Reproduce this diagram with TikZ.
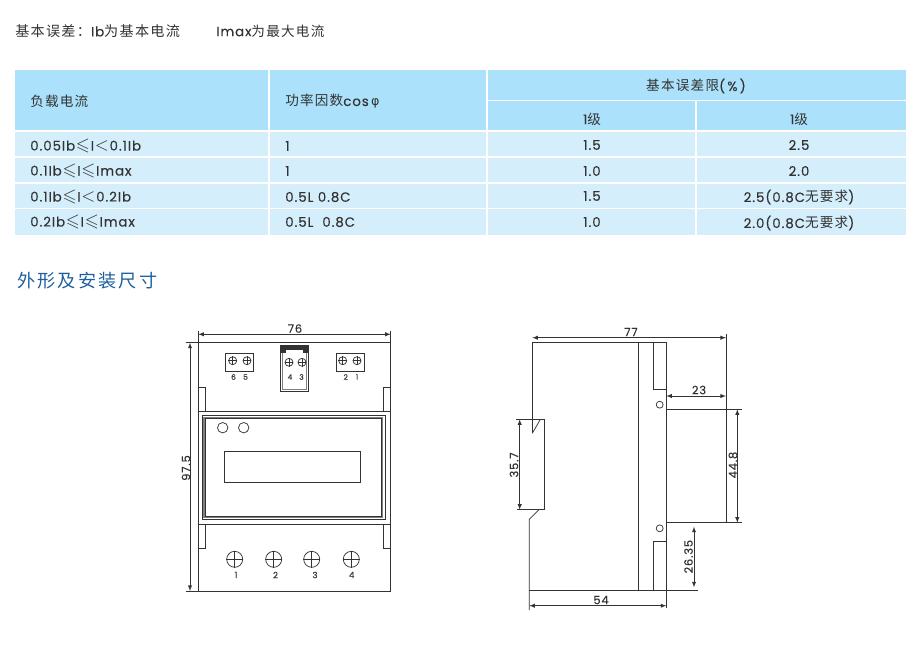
\documentclass[tikz,border=0pt]{standalone}
\usepackage{amssymb}
\usepackage{fontspec}
\setmainfont[LetterSpace=7,FakeBold=0.2]{Poppins}
\newfontfamily\cjk[LetterSpace=9]{Noto Sans CJK SC}
\newfontfamily\phifont{DejaVu Sans}
\newcommand{\cn}[1]{{\cjk\fontsize{10.2}{12}\selectfont #1}}
\newcommand{\leslant}{\kern.6pt\scalebox{1.35}{$\leqslant$}\kern.6pt}
\newcommand{\lessthan}{\kern.6pt\scalebox{1.35}{$<$}\kern.6pt}
\usetikzlibrary{arrows}
\definecolor{headblue}{HTML}{ABE1FA}
\definecolor{rowblue}{HTML}{D4EEFB}
\definecolor{inktext}{HTML}{333333}
\definecolor{titleblue}{HTML}{1F5F9E}
\tikzset{
	celltext/.style={inner sep=0pt, text=inktext, font=\fontsize{10}{12}\selectfont},
	lefttext/.style={celltext, anchor=west},
	part/.style={draw=inktext, line width=.55pt},
	dim/.style={draw=inktext, line width=.45pt, latex-latex, >=latex},
	dimtext/.style={inner sep=0pt, text=inktext, font=\fontsize{8.6}{10}\selectfont},
	tinytext/.style={inner sep=0pt, text=inktext, font=\fontsize{5.6}{7}\selectfont},
}
\newcommand{\screw}[4]{% name, x, y, diameter
	\node[part,circle,inner sep=0pt,minimum size=#4*.75pt] at (#2,#3) (#1) {};
	\draw[part,line width=.4pt] (#1.north) -- (#1.south) (#1.west) -- (#1.east);
}
\begin{document}
\begin{tikzpicture}[x=.75pt,y=-.75pt]
	\useasboundingbox (0,0) rectangle (920,647);
	% text above the table
	\node[lefttext] at (15,31) (note1) {{\cjk\fontsize{10.6}{12}\selectfont 基本误差：}Ib{\cjk\fontsize{10.6}{12}\selectfont 为基本电流}};
	\node[lefttext] at (216,31) (note2) {Imax\cn{为最大电流}};

	% table
	\fill[headblue] (15,70) rectangle (905.5,131);
	\fill[rowblue] (15,131) rectangle (905.5,234.5);
	\foreach \y in {131,157,183,208.7}
		\draw[white,line width=.9pt] (15,\y) -- (905.5,\y);
	\draw[white,line width=.9pt] (487,100.7) -- (905.5,100.7);
	\draw[white,line width=.9pt] (696,100.7) -- (696,234.5);
	\foreach \x in {269,487}
		\draw[white,line width=.9pt] (\x,70) -- (\x,234.5);

	\node[lefttext] at (30,101.5) (load) {\cn{负载电流}};
	\node[lefttext] at (285,101.5) (pf) {\cn{功率因数}cos\,{\phifont\fontsize{9.5}{11}\selectfont φ}};
	\node[celltext] at (696,86) (limit) {\cn{基本误差限}(\,\%\,)};
	\node[celltext] at (592,119) (classa) {1\cn{级}};
	\node[celltext] at (799,119) (classb) {1\cn{级}};

	\node[lefttext] at (30,146) (r1a) {0.05Ib\leslant I\lessthan 0.1Ib};
	\node[lefttext] at (30,171) (r2a) {0.1Ib\leslant I\leslant Imax};
	\node[lefttext] at (30,197) (r3a) {0.1Ib\leslant I\lessthan 0.2Ib};
	\node[lefttext] at (30,222) (r4a) {0.2Ib\leslant I\leslant Imax};
	\node[lefttext] at (285,146) (r1b) {1};
	\node[lefttext] at (285,171) (r2b) {1};
	\node[lefttext] at (285,197) (r3b) {0.5L 0.8C};
	\node[lefttext] at (285,222) (r4b) {0.5L\ \ 0.8C};
	\node[celltext] at (592,145) (r1c) {1.5};
	\node[celltext] at (592,171) (r2c) {1.0};
	\node[celltext] at (592,196) (r3c) {1.5};
	\node[celltext] at (592,222) (r4c) {1.0};
	\node[celltext] at (799,145) (r1d) {2.5};
	\node[celltext] at (799,171) (r2d) {2.0};
	\node[celltext] at (799,197) (r3d) {2.5(0.8C\cn{无要求})};
	\node[celltext] at (799,223) (r4d) {2.0(0.8C\cn{无要求})};

	\node[lefttext,text=titleblue,font=\fontsize{13.6}{16}\selectfont] at (17,281) (heading) {{\fontspec[LetterSpace=12]{Noto Sans CJK SC}外形及安装尺寸}};

	% front view
	\draw[part] (198.3,342.7) rectangle (390.7,591);
	\draw[part] (198.3,411.3) -- (390.7,411.3);
	\draw[part] (198.3,524.3) -- (390.7,524.3);
	\draw[part] (198.3,387) -| (205,411.3);
	\draw[part] (390.7,387) -| (383.3,411.3);
	\draw[part] (205,524.3) |- (198.3,548.3);
	\draw[part] (383.3,524.3) |- (390.7,548.3);
	\draw[part] (202.3,415.7) rectangle (385,519);
	\draw[draw=gray,line width=1pt] (204,417.2) rectangle (382.6,517.6);
	\draw[part,line width=.4pt] (205.2,418.2) rectangle (381,516.5);
	\draw[part] (224,451.3) rectangle (360.7,482.7);
	\node[part,circle,inner sep=0pt,minimum size=7.8pt] at (222.7,427.7) (led1) {};
	\node[part,circle,inner sep=0pt,minimum size=7.8pt] at (243.7,427.7) (led2) {};

	% top terminals
	\draw[part] (225.7,353.3) rectangle (253.3,371.3);
	\draw[part] (336.3,353.3) rectangle (364,371.3);
	\draw[part] (280.7,345.7) rectangle (308.3,391);
	\draw[draw=gray,line width=.5pt] (282.3,353) -- (282.3,389.5) -- (306.7,389.5) -- (306.7,353);
	\fill[inktext] (280.7,345.7) rectangle (308.3,353);
	\fill[white] (286,350) rectangle (303,353);
	\screw{s6}{232.7}{360.7}{8}
	\screw{s5}{247}{360.7}{8}
	\screw{s2}{342.7}{360.7}{8}
	\screw{s1}{357}{360.7}{8}
	\screw{s4}{289}{362.3}{8}
	\screw{s3}{302}{362.3}{8}
	\node[tinytext] at (233.5,377) (t6) {6};
	\node[tinytext] at (245.5,377) (t5) {5};
	\node[tinytext] at (290,377) (t4) {4};
	\node[tinytext] at (301.5,377) (t3) {3};
	\node[tinytext] at (345.7,377) (t2) {2};
	\node[tinytext] at (357,377) (t1) {1};

	% bottom terminals
	\screw{m1}{234.7}{559.3}{16}
	\screw{m2}{273.7}{559.3}{16}
	\screw{m3}{311.7}{559.3}{16}
	\screw{m4}{351.3}{559.3}{16}
	\node[tinytext,font=\fontsize{6.4}{8}\selectfont] at (236,575) (b1) {1};
	\node[tinytext,font=\fontsize{6.4}{8}\selectfont] at (275.5,575) (b2) {2};
	\node[tinytext,font=\fontsize{6.4}{8}\selectfont] at (315,575) (b3) {3};
	\node[tinytext,font=\fontsize{6.4}{8}\selectfont] at (351.7,575) (b4) {4};

	% front view dimensions
	\draw[part,line width=.4pt] (198.3,330.5) -- (198.3,342.7);
	\draw[part,line width=.4pt] (390.7,330.5) -- (390.7,342.7);
	\draw[part,line width=.4pt] (185.7,342.7) -- (198.3,342.7);
	\draw[part,line width=.4pt] (185.7,591) -- (198.3,591);
	\draw[dim] (198.3,334.3) -- (390.7,334.3);
	\draw[dim] (190,342.7) -- (190,591);
	\node[dimtext] at (295,328.5) (w76) {76};
	\node[dimtext,rotate=90] at (186,468) (h975) {97.5};

	% side view
	\draw[part] (532.3,433.3) -- (532.3,342.7) -- (666.3,342.7) -- (666.3,608);
	\draw[part] (638,342.7) -- (638,590.3);
	\draw[part] (653.3,342.7) |- (666.3,389);
	\draw[part] (653.3,590.3) |- (666.3,541.7);
	\draw[part] (532.3,433.3) -- (540,420);
	\draw[part] (515.7,419.3) -- (544,419.3) -- (544,509.7) -- (517.3,509.7);
	\draw[part] (539,509.7) -- (529.3,519.3) -- (529.3,610);
	\draw[part] (529.3,590.3) -- (698.3,590.3);
	\draw[part] (666.3,409.3) -- (741.7,409.3);
	\draw[part] (666.3,522.7) -- (741.7,522.7);
	\draw[part] (726,334.3) -- (726,522.7);
	\node[part,circle,inner sep=0pt,minimum size=5.2pt] at (659.7,404.7) (hole1) {};
	\node[part,circle,inner sep=0pt,minimum size=5.2pt] at (659.7,528.3) (hole2) {};

	% side view dimensions
	\draw[dim] (532.3,337.7) -- (726,337.7);
	\draw[dim] (666.3,396) -- (726,396);
	\draw[dim] (737.3,409.3) -- (737.3,522.7);
	\draw[dim] (519.7,419.3) -- (519.7,509.7);
	\draw[dim] (694,526.7) -- (694,587.3);
	\draw[dim] (529.3,605.7) -- (666.3,605.7);
	\node[dimtext] at (631,332) (w77) {77};
	\node[dimtext] at (699,390) (w23) {23};
	\node[dimtext,rotate=90] at (733,465) (h448) {44.8};
	\node[dimtext,rotate=90] at (514,465) (h357) {35.7};
	\node[dimtext,rotate=90] at (688.5,556.7) (h2635) {26.35};
	\node[dimtext] at (601,600) (w54) {54};
\end{tikzpicture}
\end{document}
